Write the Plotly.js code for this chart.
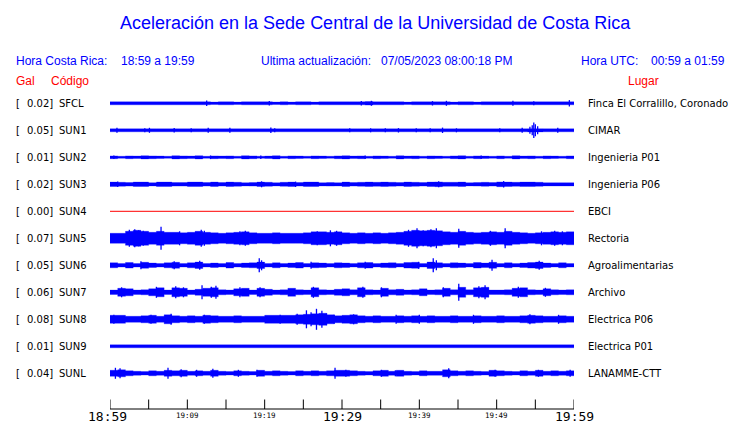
<!DOCTYPE html>
<html>
<head>
<meta charset="utf-8">
<script src="https://cdn.plot.ly/plotly-3.0.1.min.js"></script>
<style>html,body{margin:0;padding:0;background:#fff;}#chart{width:740px;height:423px;}</style>
</head>
<body>
<div id="chart"></div>
<script>
// ---------------- DATA ----------------
const stations = ["SFCL","SUN1","SUN2","SUN3","SUN4","SUN5","SUN6","SUN7","SUN8","SUN9","SUNL"];
const peaks = ["0.02","0.05","0.01","0.02","0.00","0.07","0.05","0.06","0.08","0.01","0.04"];
const places = ["Finca El Corralillo, Coronado","CIMAR","Ingenieria P01","Ingenieria P06","EBCI","Rectoria","Agroalimentarias","Archivo","Electrica P06","Electrica P01","LANAMME-CTT"];
const tickMinutes = [0,5,10,15,20,25,30,35,40,45,50,55,60];
const tickLabels = ["18:59","","19:09","","19:19","","19:29","","19:39","","19:49","","19:59"];
const majorLabels = ["18:59","19:29","19:59"];

// envelope (half amplitude) per minute, 18:59 -> 19:59
const env_SFCL = [1.5,1.5,1.5,1.5,1.5,1.5,1.5,1.5,1.5,1.5,1.5,1.5,1.5,1.2,1.5,1.5,1.2,1.5,1.5,1.5,1.5,1.2,1.5,1.2,1.5,1.5,1.2,1.5,1.5,1.5,1.5,1.5,1.5,1.8,1.5,1.5,1.5,1.5,1.2,1.5,1.5,1.5,1.5,1.5,1.2,1.5,1.5,1.2,1.5,1.5,1.5,1.5,1.5,1.5,1.5,1.5,1.5,1.5,1.5,1.5];
const env_SUN1 = [1.5,1.5,1.5,1.5,1.5,1.5,1.5,1.5,1.5,1.5,1.5,1.5,1.5,1.5,1.5,1.5,1.5,1.5,1.5,1.5,1.5,1.5,1.5,1.5,1.5,1.5,1.5,1.5,1.5,1.5,1.5,1.5,1.5,1.5,1.5,1.5,1.5,1.5,1.5,1.5,1.5,1.5,1.5,1.5,1.5,1.5,1.5,1.5,1.5,1.5,1.5,1.5,1.5,1.5,1.6,1.6,1.5,1.5,1.5,1.5];
const env_SUN2 = [1.4,1.0,1.4,1.2,1.6,1.4,1.2,1.0,1.6,1.4,1.2,1.6,1.0,1.4,1.2,1.4,1.0,1.6,1.4,1.0,1.2,1.6,1.0,1.4,1.2,1.0,1.4,1.2,1.0,1.4,1.6,1.2,1.4,1.0,1.4,1.2,1.0,1.6,1.2,1.4,1.0,1.4,1.2,1.0,1.4,1.6,1.0,1.4,1.2,1.0,1.4,1.0,1.6,1.2,1.4,1.0,1.4,1.2,1.0,1.4];
const env_SUN3 = [2.2,2.0,1.8,2.2,2.2,1.6,2.2,2.2,1.8,1.8,2.2,2.2,1.8,2.2,1.8,2.2,2.0,1.6,1.8,2.2,2.0,1.6,2.0,2.2,1.8,2.2,2.2,1.6,1.8,1.6,2.2,1.8,2.0,2.2,2.0,2.2,2.0,1.8,2.2,2.0,1.8,2.2,2.4,2.0,2.0,2.2,1.6,1.8,2.0,1.8,2.4,2.2,2.0,2.2,2.2,2.0,1.6,1.6,1.6,1.6];
const env_SUN4 = [0,0,0,0,0,0,0,0,0,0,0,0,0,0,0,0,0,0,0,0,0,0,0,0,0,0,0,0,0,0,0,0,0,0,0,0,0,0,0,0,0,0,0,0,0,0,0,0,0,0,0,0,0,0,0,0,0,0,0,0];
const env_SUN5 = [5,5,7,8,7,6,7,6,6,5.5,6,7,6,5.5,5,5.5,6,6.5,5.5,5,5,5.5,5,5,5,5.5,6.5,6.5,6,6.5,5.5,5,5.5,5,5.5,5,5.5,6,7,8,7.5,8,7.5,6.5,6,7,6,5.5,6,6.5,6,7,6,5.5,5,5.5,6,6.5,6,6.5];
const env_SUN6 = [2.5,1.7,2.8,1.7,3.0,2.2,1.7,2.5,3.0,1.7,2.5,3.2,1.7,2.2,1.7,2.8,1.7,2.2,2.5,3.2,1.7,2.5,1.7,2.2,2.8,1.7,2.5,2.2,1.7,2.5,2.2,1.7,2.5,2.8,1.7,2.2,2.5,1.7,2.8,3.0,1.7,3.2,2.5,1.7,2.5,2.2,1.7,2.8,2.2,3.0,1.7,2.5,1.7,2.2,2.8,3.2,2.2,1.7,2.5,1.7];
const env_SUN7 = [2.2,4,3.5,2.2,2.5,3.5,4.5,2.2,4.5,4,2.2,3,4,4.5,2.5,2.2,3.5,4,2.2,4,3,2.2,2.5,4,2.5,2.2,4.5,2.5,2.2,3,3.5,2.5,4.5,2.5,2.2,4,2.5,3,2.2,2.5,3.5,2.2,2.5,4,2.5,5,2.5,4.5,5,2.2,2.2,2.5,4,4.5,2.5,2.2,3.5,2.5,2.2,2.5];
const env_SUN8 = [4,4,3,3,3.5,4,3,4.5,3.5,3,3.5,3,4,3.5,3,3,3.5,3,3,3,4,4,4,4,4.5,5,5.5,6,4.5,3.5,4,4.5,3.5,3,3.5,3,3,3.5,3,3.5,3,3.5,3,3,3.5,3,3,3.5,3,3,3.5,3,3,3.5,4,3.5,3,3,3.5,3];
const env_SUN9 = [1.5,1.5,1.5,1.5,1.5,1.5,1.5,1.5,1.5,1.5,1.5,1.5,1.5,1.5,1.5,1.5,1.5,1.5,1.5,1.5,1.5,1.5,1.5,1.5,1.5,1.5,1.5,1.5,1.5,1.5,1.5,1.5,1.5,1.5,1.5,1.5,1.5,1.5,1.5,1.5,1.5,1.5,1.5,1.5,1.5,1.5,1.5,1.5,1.5,1.5,1.5,1.5,1.5,1.5,1.5,1.5,1.5,1.5,1.5,1.5];
const env_SUNL = [3,3.5,2.5,2,1.7,2.5,2,3,2.5,3,2,2.5,2,3,2,1.7,2.5,2,1.7,3,2,2.5,2,1.7,2.5,2,2.5,2,2.5,3,3,2.5,2,1.7,2.5,3,2,3,2,1.7,2.5,2,2,3.5,2.5,2,2.5,2,1.7,3,2.5,2,1.7,2.5,2,3,2,2.5,2,2.5];

// isolated peaks: [minute, half amplitude]
const spk_SFCL = [[12.5,2.8],[20.6,2.2],[32.5,2.2],[33.8,2.5],[41.7,2.2],[43.5,2.5],[52.1,2.5],[54.8,2.0],[59.4,3.2]];
const spk_SUN1 = [[0.9,2.5],[4.5,2],[5.1,2.5],[8.3,2.2],[10.5,2],[12.7,2.5],[15.5,2.5],[20.8,2.8],[21.3,2],[31,2],[33.7,2],[35.6,2],[37.3,2.2],[39.6,2],[41.4,2],[43,2.7],[44.8,2],[50.4,2],[53.3,2.5],[54.3,3.5],[54.6,5],[54.8,7.8],[55.0,6],[55.3,4],[57.9,2.5]];
const spk_SUN2 = [[0.5,1.8],[13,1.8],[19.5,1.8],[33,1.8],[48,1.8]];
const spk_SUN3 = [[1,2.7],[19.6,3],[24,2.7],[42.5,3],[50.9,3.2]];
const spk_SUN4 = [];
const spk_SUN5 = [[2.5,8.5],[3.2,9],[3.7,8],[4.3,7.5],[6.6,11.5],[9,7],[11.8,8.5],[12.2,7.5],[16.8,7],[17.5,7.5],[26.8,7],[28.5,8],[29.3,7.5],[38.6,8.5],[39.7,10],[40.5,8],[41.5,9],[42.2,10],[45.1,9.5],[49.2,7.5],[51.1,10],[55.8,7],[57.5,7.5],[58.5,7]];
const spk_SUN6 = [[4,4],[8.3,4],[11.6,4.5],[19.3,7],[19.6,5],[26,3.5],[33,3.5],[39.9,3.5],[41.8,7],[42.2,5],[49.4,5.5],[55.5,4.5]];
const spk_SUN7 = [[1.5,5],[6,5.5],[8.5,6],[9.5,5],[11.9,7],[13.1,5.5],[13.7,6.5],[16.8,5],[19.4,5],[26.3,5.5],[32.7,5.5],[35.1,5],[43.1,5],[45.1,8.5],[47.7,6],[48.5,7],[52.8,5.5],[56.3,4.5]];
const spk_SUN8 = [[0.5,4.5],[5.3,4.5],[7.9,5.5],[12.2,4.5],[22,4.5],[24.2,5.5],[25.4,9],[26.0,7],[26.7,10.5],[27.4,8.5],[28.0,6],[29,4.5],[31.5,5],[37,4.5],[40,4.5],[47,4.5],[54.3,5],[58,4.5]];
const spk_SUN9 = [];
const spk_SUNL = [[0.7,5.5],[1.3,5],[7.5,5.5],[9.2,4],[11.2,3.5],[13.3,4.5],[16.6,3.5],[19,3.5],[29.1,5.5],[30.5,3.5],[35.1,3.5],[36.9,3],[43.8,5],[49.8,3.5],[55.4,3.5],[59.5,3.5]];

const ENV = {SFCL:env_SFCL,SUN1:env_SUN1,SUN2:env_SUN2,SUN3:env_SUN3,SUN4:env_SUN4,SUN5:env_SUN5,SUN6:env_SUN6,SUN7:env_SUN7,SUN8:env_SUN8,SUN9:env_SUN9,SUNL:env_SUNL};
const SPK = {SFCL:spk_SFCL,SUN1:spk_SUN1,SUN2:spk_SUN2,SUN3:spk_SUN3,SUN4:spk_SUN4,SUN5:spk_SUN5,SUN6:spk_SUN6,SUN7:spk_SUN7,SUN8:spk_SUN8,SUN9:spk_SUN9,SUNL:spk_SUNL};

// ---------------- LAYOUT CONSTANTS ----------------
const W = 740, H = 423;
const M = {l:110, r:166, t:90, b:14};
const PW = W - M.l - M.r, PH = H - M.t - M.b;
const ROW = 27;           // vertical spacing between traces (y units = px)
const Y_TOP = -13.3;      // y value at top of plot area
const BLUE = "#0000ff", RED = "#ff0000";

const traces = [];
stations.forEach((code, i) => {
  const c = i * ROW;
  const env = ENV[code];
  const xs = env.map((_, k) => k).concat([env.length]);
  const ev = env.concat([env[env.length - 1]]);
  if (peaks[i] === "0.00") {
    traces.push({x: xs, y: ev.map(a => c + a), mode: "lines", line: {color: RED, width: 1}, hoverinfo: "skip", showlegend: false});
    return;
  }
  traces.push({x: xs, y: ev.map(a => c + a), mode: "lines", line: {color: BLUE, width: 0.3, shape: "hv"}, hoverinfo: "skip", showlegend: false});
  traces.push({x: xs, y: ev.map(a => c - a), mode: "lines", fill: "tonexty", fillcolor: BLUE, line: {color: BLUE, width: 0.3, shape: "hv"}, hoverinfo: "skip", showlegend: false});
  const sx = [], sy = [];
  SPK[code].forEach(([t, a]) => { sx.push(t, t, null); sy.push(c - a, c + a, null); });
  if (sx.length) traces.push({x: sx, y: sy, mode: "lines", line: {color: BLUE, width: 1.3}, connectgaps: false, hoverinfo: "skip", showlegend: false});
});

// pixel -> paper helpers
const px = x => (x - M.l) / PW;
const py = y => (H - M.b - y) / PH;
const ann = [];
function txt(x, y, text, size, color, family, anchor) {
  ann.push({xref: "paper", yref: "paper", x: px(x), y: py(y), text: text, showarrow: false,
    xanchor: anchor || "left", yanchor: "middle", borderpad: 0,
    font: {size: size, color: color, family: family}});
}
const SANS = "Liberation Sans, Arial, sans-serif";
const DJ = "DejaVu Sans, sans-serif";
const MONO = "DejaVu Sans Mono, monospace";

txt(375, 23, "Aceleración en la Sede Central de la Universidad de Costa Rica", 18, BLUE, SANS, "center");
txt(15, 61, "Hora Costa Rica:", 12, BLUE, SANS);
txt(120, 61, "18:59 a 19:59", 12, BLUE, SANS);
txt(260, 61, "Ultima actualización:", 12, BLUE, SANS);
txt(380, 61, "07/05/2023 08:00:18 PM", 12, BLUE, SANS);
txt(580, 61, "Hora UTC:", 12, BLUE, SANS);
txt(650, 61, "00:59 a 01:59", 12, BLUE, SANS);
txt(15, 81, "Gal", 12, RED, SANS);
txt(50, 81, "Código", 12, RED, SANS);
txt(627, 81, "Lugar", 12, RED, SANS);

stations.forEach((code, i) => {
  const y = 103.3 + i * ROW;
  txt(15, y, "[", 10, "#000", DJ);
  txt(54, y, peaks[i] + "]", 10, "#000", DJ, "right");
  txt(57.5, y, code, 10, "#000", DJ);
  txt(587, y, places[i], 10, "#000", DJ);
});

tickMinutes.forEach((m, k) => {
  const lab = tickLabels[k];
  if (!lab) return;
  const major = majorLabels.includes(lab);
  ann.push({xref: "x", yref: "paper", x: m, y: py(major ? 416 : 415.5), text: lab, showarrow: false,
    xanchor: "center", yanchor: "middle", borderpad: 0, xshift: (m === 0 ? -3 : 0),
    font: {size: major ? 13 : 7.5, color: "#000", family: MONO}});
});

// time axis line and upward ticks
const shapes = [{type: "line", xref: "x", yref: "paper", x0: 0, x1: 60, y0: 0, y1: 0, line: {color: "#000", width: 1}}];
tickMinutes.forEach(m => {
  shapes.push({type: "line", xref: "x", yref: "paper", x0: m, x1: m, y0: 0, y1: 9.5 / PH, line: {color: "#000", width: 1}});
});

const layout = {
  width: W, height: H, margin: M, paper_bgcolor: "#fff", plot_bgcolor: "#fff",
  showlegend: false,
  xaxis: {range: [0, 60], showgrid: false, zeroline: false, showline: false, ticks: "", showticklabels: false, fixedrange: true},
  yaxis: {range: [Y_TOP + PH, Y_TOP], visible: false, fixedrange: true},
  annotations: ann,
  shapes: shapes
};

Plotly.newPlot("chart", traces, layout, {staticPlot: true, displayModeBar: false});
</script>
</body>
</html>
